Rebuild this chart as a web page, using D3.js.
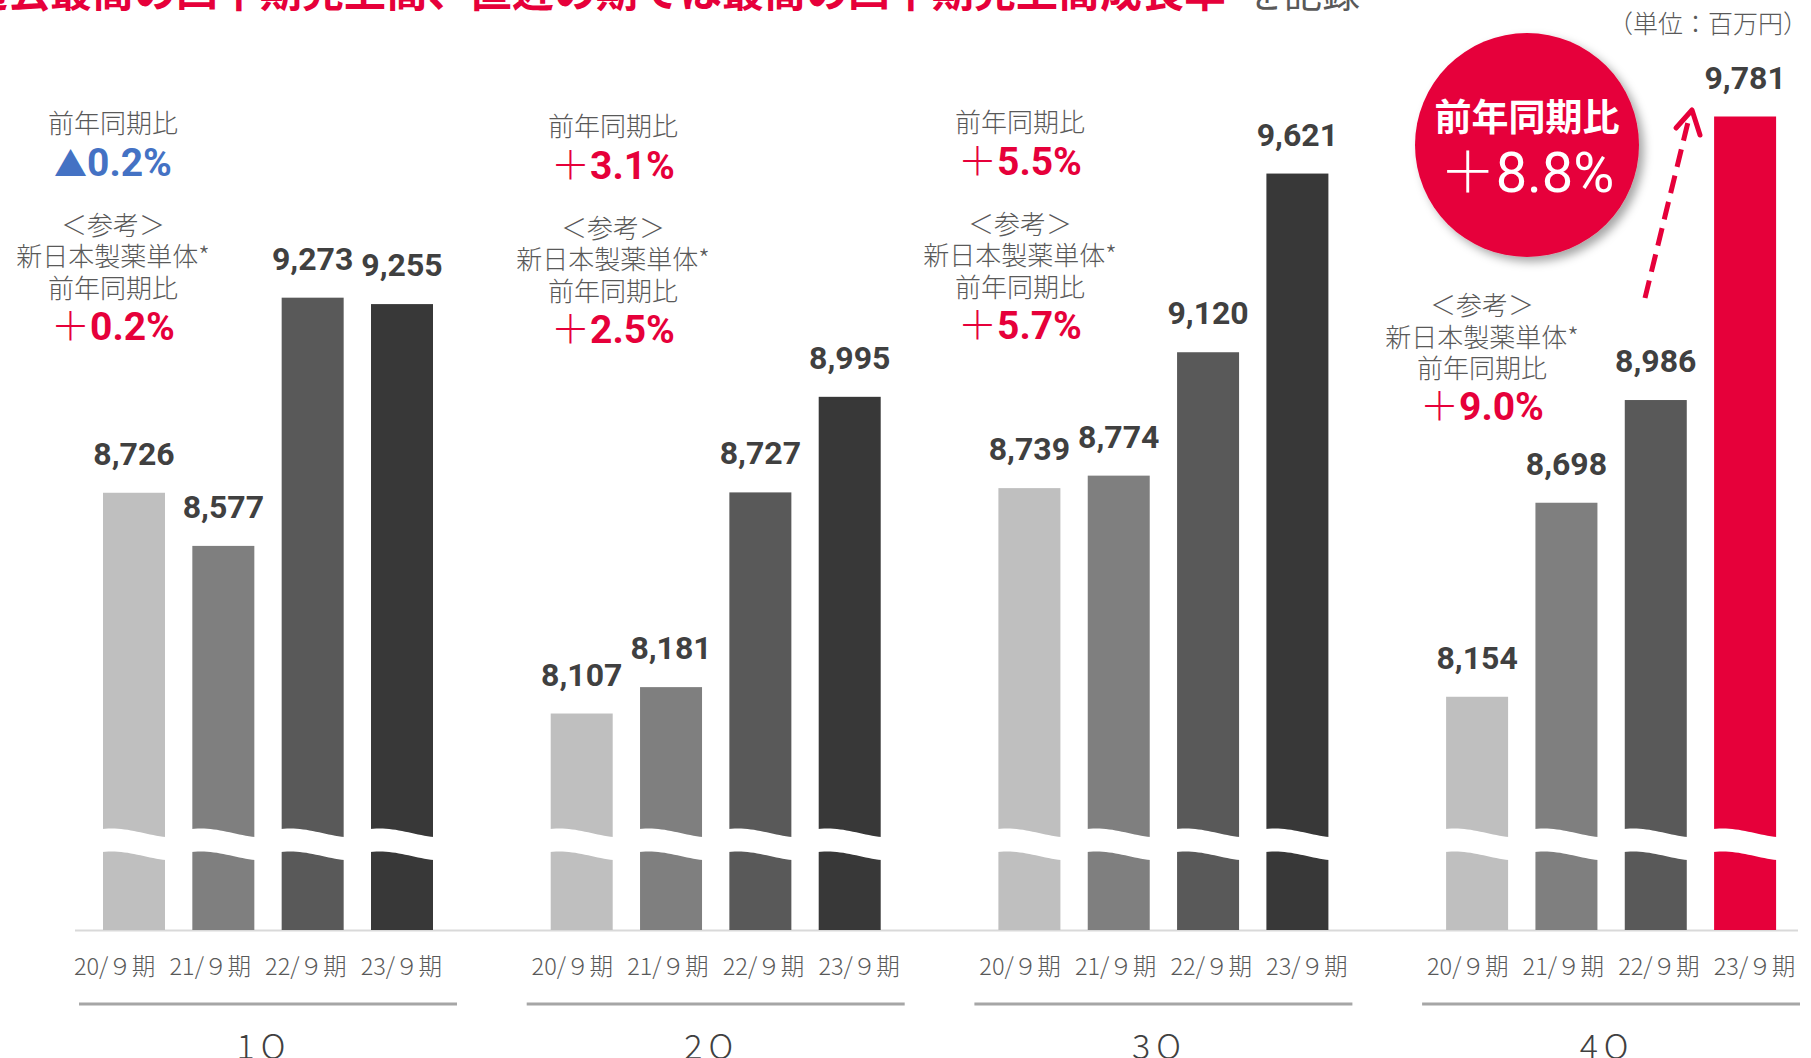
<!DOCTYPE html>
<meta charset="utf-8">
<script src="https://d3js.org/d3.v7.min.js"></script>
<style>
body { margin: 0; background: #fff; }
svg { display: block; }
.val { font-family: Roboto, sans-serif; font-weight: 700; font-size: 32px; fill: #404040; text-anchor: middle; }
.note { font-family: "Noto Sans CJK JP", sans-serif; font-weight: 300; font-size: 26px; fill: #595959; text-anchor: middle; }
.cat { font-family: "Noto Sans CJK JP", sans-serif; font-weight: 300; font-size: 23.5px; fill: #595959; text-anchor: middle; }
.grp { font-family: "Noto Sans CJK JP", sans-serif; font-weight: 300; font-size: 34px; fill: #404040; text-anchor: middle; letter-spacing: 6px; }
</style>
<svg width="1811" height="1058"></svg>
<script>

// data
var quarters = ["1Q", "2Q", "3Q", "4Q"];
var periods = ["20/９期", "21/９期", "22/９期", "23/９期"];
var sales1Q = [8726, 8577, 9273, 9255];
var sales2Q = [8107, 8181, 8727, 8995];
var sales3Q = [8739, 8774, 9120, 9621];
var sales4Q = [8154, 8698, 8986, 9781];
var yoyTotal = ["▲0.2%", "+3.1%", "+5.5%", "+8.8%"];
var yoySingle = ["+0.2%", "+2.5%", "+5.7%", "+9.0%"];

var red = "#e6003a";
var svg = d3.select("svg");

// defs: drop shadow for the circle
var defs = svg.append("defs");
defs.append("filter").attr("id", "shadow")
    .attr("x", "-20%").attr("y", "-20%").attr("width", "150%").attr("height", "150%")
  .append("feDropShadow")
    .attr("dx", 5).attr("dy", 5).attr("stdDeviation", 5)
    .attr("flood-color", "#000").attr("flood-opacity", 0.35);

// scales
var x0 = d3.scaleBand().domain(quarters).range([103, 103 + 4 * 447.7]);
var x1 = d3.scaleBand().domain(periods).range([0, 330]).paddingInner(0.306);
var y = d3.scaleLinear().domain([7500, 9781]).range([930, 116.5]);
var color = d3.scaleOrdinal().domain(periods).range(["#bfbfbf", "#7f7f7f", "#595959", "#383838"]);

var allSales = [sales1Q, sales2Q, sales3Q, sales4Q];
var data = [];
quarters.forEach(function(q, i) {
  allSales[i].forEach(function(v, j) {
    data.push({q: q, qi: i, period: periods[j], value: v, hi: (i == 3 && j == 3)});
  });
});

// title (cut off at the top edge)
svg.append("text")
    .attr("x", 1226).attr("y", 7)
    .attr("text-anchor", "end")
    .style("font", "700 42px 'Noto Sans CJK JP'")
    .attr("fill", red)
    .text("過去最高の四半期売上高、直近の期では最高の四半期売上高成長率");
svg.append("text")
    .attr("x", 1246).attr("y", 7)
    .style("font", "400 38px 'Noto Sans CJK JP'")
    .attr("fill", "#595959")
    .text("を記録");

svg.append("text")
    .attr("class", "note")
    .attr("x", 1808).attr("y", 33)
    .style("text-anchor", "end")
    .style("font-size", "25px")
    .text("（単位：百万円）");

// baseline
svg.append("line")
    .attr("x1", 75).attr("x2", 1798)
    .attr("y1", 930.5).attr("y2", 930.5)
    .attr("stroke", "#d9d9d9").attr("stroke-width", 2);

// bars
svg.append("g").selectAll("rect")
  .data(data)
  .enter().append("rect")
    .attr("x", function(d) { return x0(d.q) + x1(d.period); })
    .attr("y", function(d) { return y(d.value); })
    .attr("width", x1.bandwidth())
    .attr("height", function(d) { return y(7500) - y(d.value); })
    .attr("fill", function(d) { return d.hi ? red : color(d.period); });

// wavy break band
var breakTop = 829;
svg.append("g").selectAll("path")
  .data(data)
  .enter().append("path")
    .attr("fill", "#fff")
    .attr("d", function(d) {
      var x = x0(d.q) + x1(d.period) - 1, w = x1.bandwidth() + 2;
      var top = [], bot = [];
      for (var k = 0; k <= 20; k++) {
        var t = k / 20;
        var yy = breakTop + 8 * (1 - Math.cos(Math.PI * t)) / 2 - 2 * Math.sin(Math.PI * t);
        top.push([x + t * w, yy]);
        bot.unshift([x + t * w, yy + 23]);
      }
      return d3.line()(top.concat(bot)) + "Z";
    });

// value labels
svg.append("g").selectAll("text")
  .data(data)
  .enter().append("text")
    .attr("class", "val")
    .attr("x", function(d) { return x0(d.q) + x1(d.period) + x1.bandwidth() / 2; })
    .attr("y", function(d) { return y(d.value) - 28; })
    .text(function(d) { return d3.format(",")(d.value); });

// category labels (spread a little wider than the bars)
var catShift = [-10, 0, 0, 0];
svg.append("g").selectAll("text")
  .data(data)
  .enter().append("text")
    .attr("class", "cat")
    .attr("x", function(d) {
      var c = x0(d.q) + 165;
      var bc = x0(d.q) + x1(d.period) + x1.bandwidth() / 2;
      return c + (bc - c) * 1.07 + catShift[d.qi];
    })
    .attr("y", 975)
    .text(function(d) { return d.period; });

// group lines + labels
quarters.forEach(function(q) {
  var c = x0(q) + 165;
  svg.append("line")
      .attr("x1", c - 189).attr("x2", Math.min(c + 189, 1800))
      .attr("y1", 1004).attr("y2", 1004)
      .attr("stroke", "#a6a6a6").attr("stroke-width", 3);
  svg.append("text")
      .attr("class", "grp")
      .attr("x", c - 4).attr("y", 1059)
      .text(q);
});

// percent text helper
function pct(sel, str, fill, size) {
  var t = sel.append("text")
      .attr("text-anchor", "middle")
      .attr("fill", fill);
  var sign = str.charAt(0);
  if (sign == "▲") {
    t.append("tspan").style("font", "400 " + (size - 6) + "px 'Noto Sans CJK JP'").text("▲");
  } else {
    t.append("tspan").style("font", "300 " + size + "px 'Noto Sans CJK JP'").text("＋");
  }
  t.append("tspan").style("font", "700 " + size + "px Roboto").text(str.slice(1));
  return t;
}

// notes for 1Q-3Q
var noteX = [113, 613, 1020];
var noteDy = [0, 3, -1];
[0, 1, 2].forEach(function(i) {
  var g = svg.append("g");
  var dy = noteDy[i], cx = noteX[i];
  g.append("text").attr("class", "note").attr("x", cx).attr("y", 133 + dy).text("前年同期比");
  pct(g, yoyTotal[i], i == 0 ? "#4472c4" : red, 39).attr("x", cx).attr("y", 176 + dy);
  g.append("text").attr("class", "note").attr("x", cx).attr("y", 235 + dy).text("＜参考＞");
  g.append("text").attr("class", "note").attr("x", cx).attr("y", 266 + dy).text("新日本製薬単体*");
  g.append("text").attr("class", "note").attr("x", cx).attr("y", 298 + dy).text("前年同期比");
  pct(g, yoySingle[i], red, 39).attr("x", cx).attr("y", 340 + dy);
});

// 4Q circle
var circ = svg.append("g");
circ.append("circle")
    .attr("cx", 1527).attr("cy", 145).attr("r", 112)
    .attr("fill", red)
    .attr("filter", "url(#shadow)");
circ.append("text")
    .attr("x", 1527).attr("y", 131)
    .attr("text-anchor", "middle")
    .attr("fill", "#fff")
    .style("font", "700 37px 'Noto Sans CJK JP'")
    .text("前年同期比");
var big = circ.append("text")
    .attr("x", 1527).attr("y", 192)
    .attr("text-anchor", "middle")
    .attr("fill", "#fff");
big.append("tspan").style("font", "300 56px 'Noto Sans CJK JP'").text("＋");
big.append("tspan").style("font", "400 56px Roboto").text(yoyTotal[3].slice(1));

// 4Q reference block
var g4 = svg.append("g");
g4.append("text").attr("class", "note").attr("x", 1482).attr("y", 315).text("＜参考＞");
g4.append("text").attr("class", "note").attr("x", 1482).attr("y", 347).text("新日本製薬単体*");
g4.append("text").attr("class", "note").attr("x", 1482).attr("y", 378).text("前年同期比");
pct(g4, yoySingle[3], red, 39).attr("x", 1482).attr("y", 420);

// dashed arrow
svg.append("line")
    .attr("x1", 1645).attr("y1", 298)
    .attr("x2", 1689).attr("y2", 118)
    .attr("stroke", red).attr("stroke-width", 5)
    .attr("stroke-dasharray", "18 9");
svg.append("path")
    .attr("d", "M1676,128L1692,110L1700,135")
    .attr("fill", "none")
    .attr("stroke", red).attr("stroke-width", 5)
    .attr("stroke-linecap", "round").attr("stroke-linejoin", "round");

</script>
